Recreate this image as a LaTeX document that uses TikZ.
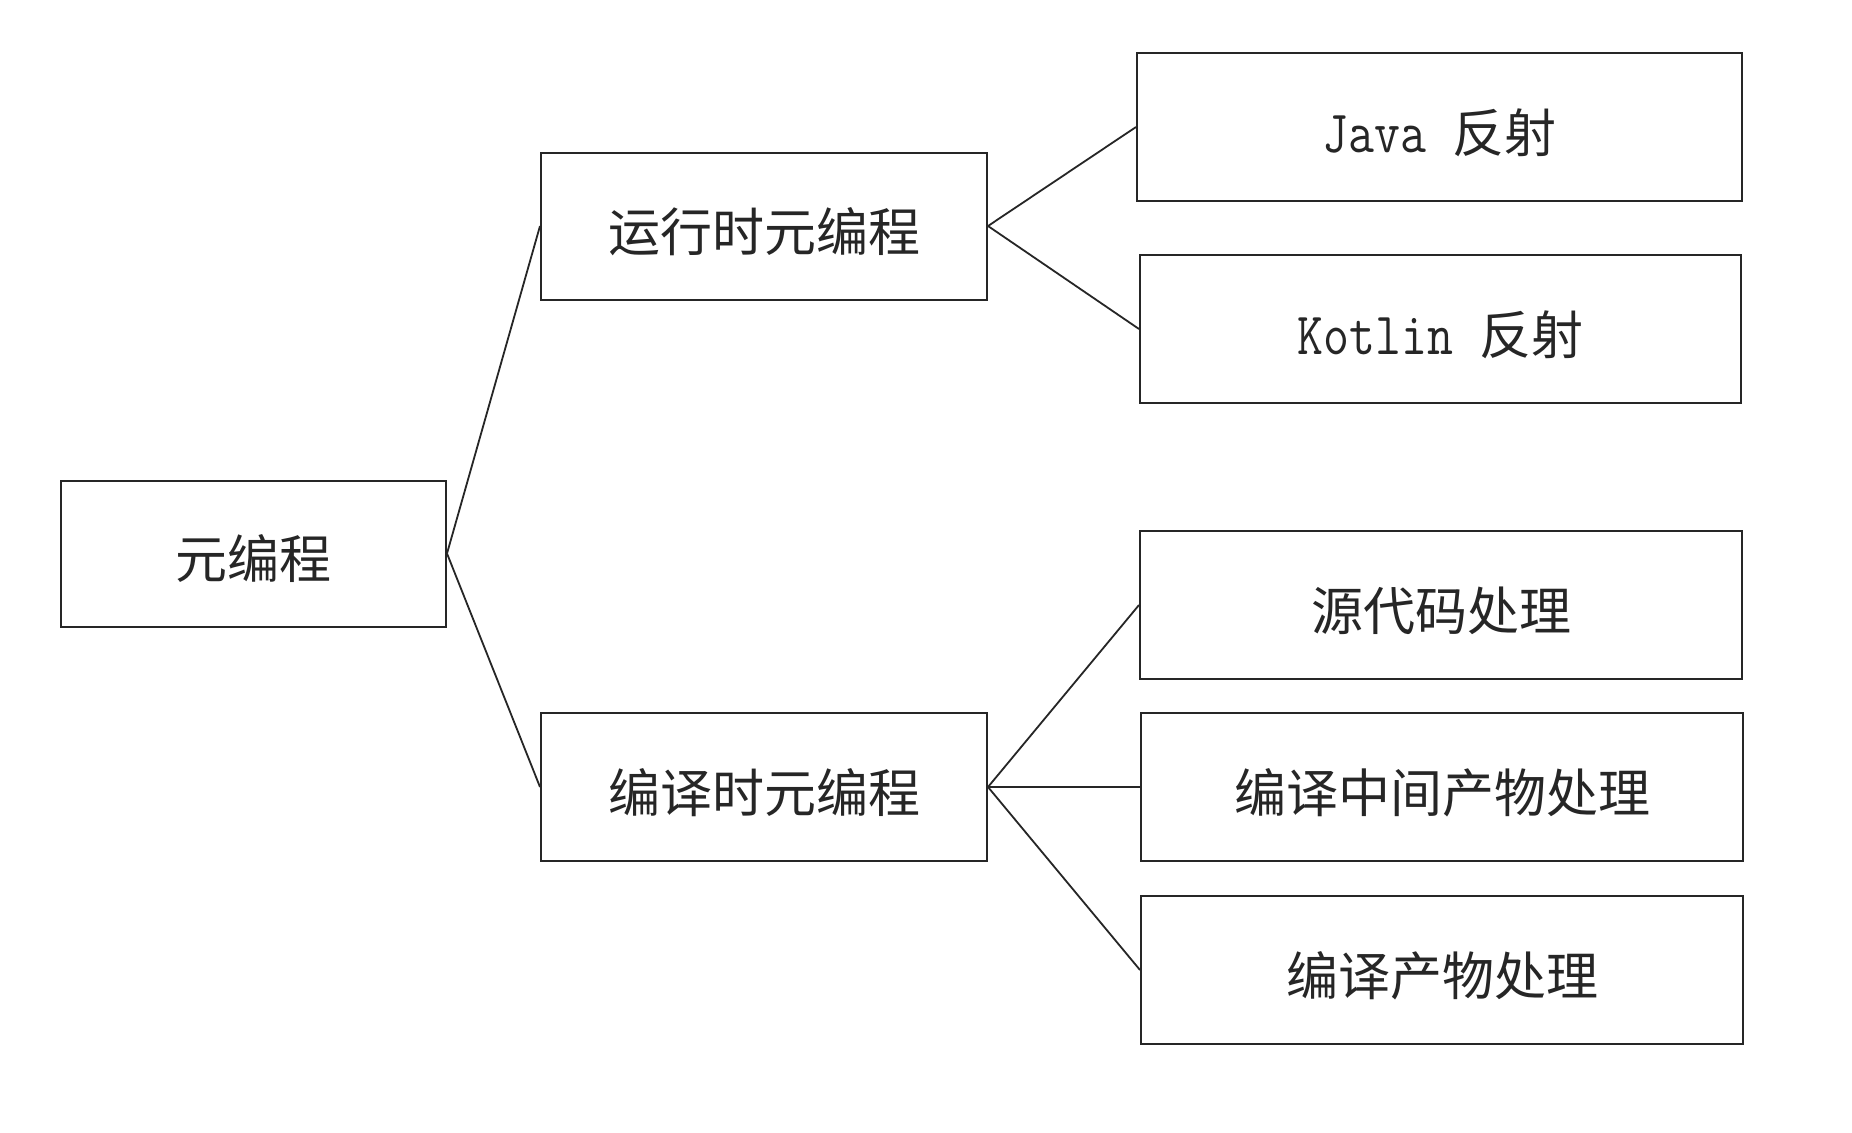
\documentclass[tikz,border=0pt]{standalone}
\usepackage{fontspec}
\newfontfamily\cjk{Noto Sans CJK SC}
\newfontfamily\monof{Latin Modern Mono}[FakeStretch=0.84]
\newcommand\lat[1]{{\monof\fontsize{60bp}{66bp}\selectfont #1}}
\begin{document}
\begin{tikzpicture}[x=1bp,y=-1bp,
  box/.style={draw=black!85, line width=2bp, rectangle, inner sep=0pt,
    text height=50bp, text depth=0bp,
    font=\cjk\fontsize{52bp}{60bp}\selectfont, text=black!85},
  conn/.style={draw=black!85, line width=1.8bp}]
\useasboundingbox[fill=white] (0,0) rectangle (1852,1132);
\node[box, minimum width=385bp, minimum height=146bp] (root) at (253.5,553.5) {元编程};
\node[box, minimum width=446bp, minimum height=147bp] (run) at (764,226) {运行时元编程};
\node[box, minimum width=446bp, minimum height=148bp] (comp) at (764,787) {编译时元编程};
\node[box, minimum width=605bp, minimum height=148bp] (java) at (1439.5,127) {\lat{Java\ }反射};
\node[box, minimum width=601bp, minimum height=148bp] (kotlin) at (1440.5,329) {\lat{Kotlin\ }反射};
\node[box, minimum width=602bp, minimum height=148bp] (src) at (1441,605) {源代码处理};
\node[box, minimum width=602bp, minimum height=148bp] (mid) at (1442,787) {编译中间产物处理};
\node[box, minimum width=602bp, minimum height=148bp] (out) at (1442,970) {编译产物处理};
\draw[conn] (root.east) -- (run.west);
\draw[conn] (root.east) -- (comp.west);
\draw[conn] (run.east) -- (java.west);
\draw[conn] (run.east) -- (kotlin.west);
\draw[conn] (comp.east) -- (src.west);
\draw[conn] (comp.east) -- (mid.west);
\draw[conn] (comp.east) -- (out.west);
\end{tikzpicture}
\end{document}
